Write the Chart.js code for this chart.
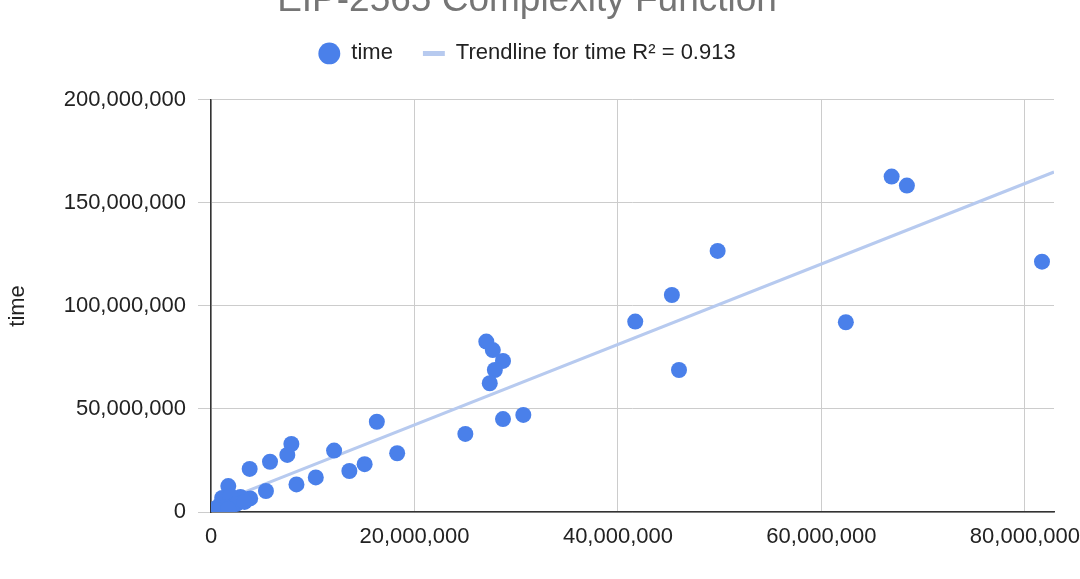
<!DOCTYPE html>
<html>
<head>
<meta charset="utf-8">
<title>EIP-2565 Complexity Function</title>
<script src="https://cdn.jsdelivr.net/npm/chart.js@4.4.0/dist/chart.umd.min.js"></script>
<style>
  html, body { margin: 0; padding: 0; background: #fff; overflow: hidden; }
  #wrap { position: relative; width: 1080px; height: 600px; margin-top: -21px; }
</style>
</head>
<body>
<div id="wrap"><canvas id="chart" width="1080" height="600"></canvas></div>
<script>
// valores (complexity no eixo x, time no eixo y)
const complexity = [
  81680000, 66900000, 68400000, 62400000, 49800000, 45300000, 46000000, 41700000,
  27060000, 27700000, 28700000, 27900000, 27400000, 28700000, 30700000, 25000000,
  16300000, 18300000, 15100000, 13600000, 12100000, 10300000, 8400000, 7900000,
  7500000, 5800000, 5400000, 3800000, 1700000, 3850000,
  2900000, 2200000, 1500000, 900000, 500000, 200000, 50000, 1100000,
  1900000, 2500000, 3300000, 1400000, 700000, 1700000
];
const timeValues = [
  121500000, 162800000, 158400000, 92100000, 126700000, 105300000, 68900000, 92400000,
  82700000, 78600000, 73300000, 68900000, 62500000, 45100000, 47100000, 37900000,
  43800000, 28500000, 23200000, 19900000, 29800000, 16800000, 13400000, 33000000,
  27700000, 24400000, 10200000, 20900000, 12600000, 6600000,
  7300000, 5800000, 4900000, 3400000, 1900000, 1000000, 200000, 6800000,
  7800000, 3900000, 4900000, 2400000, 1000000, 1500000
];

// linha de tendência (pontos extremos)
const trendX = [0, 82860000];
const trendY = [3200000, 165000000];

const xTicks = [0, 20000000, 40000000, 60000000, 80000000];
const yTicks = [0, 50000000, 100000000, 150000000, 200000000];

const pointColor = '#4a80ea';
const trendColor = '#b7caef';
const fontFamily = 'Arial, "Liberation Sans", sans-serif';

function renderChart() {
  const ctx = document.getElementById('chart').getContext('2d');
  new Chart(ctx, {
    type: 'scatter',
    data: {
      datasets: [{
        label: 'time',
        data: complexity.map((x, i) => ({ x: x, y: timeValues[i] })),
        backgroundColor: pointColor,
        borderWidth: 0,
        pointRadius: 8,
        pointHoverRadius: 8
      }, {
        type: 'line',
        label: 'Trendline for time R\u00b2 = 0.913',
        data: trendX.map((x, i) => ({ x: x, y: trendY[i] })),
        borderColor: trendColor,
        borderWidth: 3,
        pointRadius: 0,
        fill: false
      }]
    },
    options: {
      responsive: false,
      animation: false,
      layout: { padding: { left: 0, right: 26, top: 0, bottom: 0 } },
      plugins: {
        title: {
          display: true,
          text: 'EIP-2565 Complexity Function',
          color: '#757575',
          font: { family: fontFamily, size: 37, weight: 'normal', lineHeight: 1.2 },
          padding: { top: 0, bottom: -11 }
        },
        // espaço vazio entre a legenda e o gráfico
        subtitle: {
          display: true,
          text: ' ',
          font: { size: 10, lineHeight: 1 },
          padding: { top: 0, bottom: 15.5 }
        },
        legend: {
          position: 'top',
          weight: 1600,
          labels: {
            usePointStyle: true,
            boxHeight: 15.5,
            padding: 30,
            color: '#222',
            font: { family: fontFamily, size: 22 },
            generateLabels(chart) {
              const items = Chart.defaults.plugins.legend.labels.generateLabels(chart);
              items[0].pointStyle = 'circle';
              items[0].fillStyle = pointColor;
              items[0].lineWidth = 0;
              items[1].pointStyle = 'line';
              items[1].strokeStyle = trendColor;
              items[1].lineWidth = 5;
              return items;
            }
          }
        },
        tooltip: { enabled: false }
      },
      scales: {
        x: {
          type: 'linear',
          min: 0,
          max: trendX[1],
          afterBuildTicks: s => { s.ticks = xTicks.map(v => ({ value: v })); },
          afterFit: s => { s.height = 67; s.paddingRight = 4; },
          ticks: {
            color: '#222',
            padding: 12,
            maxRotation: 0,
            font: { family: fontFamily, size: 22 },
            callback: v => v.toLocaleString('en-US')
          },
          grid: { color: '#cccccc', drawTicks: false },
          border: { color: '#333', width: 1.5 }
        },
        y: {
          type: 'linear',
          min: 0,
          max: 200000000,
          afterBuildTicks: s => { s.ticks = yTicks.map(v => ({ value: v })); },
          afterFit: s => { s.width = 211; },
          ticks: {
            color: '#222',
            padding: 12,
            font: { family: fontFamily, size: 22 },
            callback: v => v.toLocaleString('en-US')
          },
          grid: { color: '#cccccc', tickLength: 13, tickColor: '#cccccc' },
          border: { color: '#333', width: 1.5 },
          title: {
            display: true,
            text: 'time',
            color: '#222',
            font: { family: fontFamily, size: 22 },
            padding: { top: 5, bottom: 0 }
          }
        }
      }
    }
  });
}

renderChart();
</script>
</body>
</html>
